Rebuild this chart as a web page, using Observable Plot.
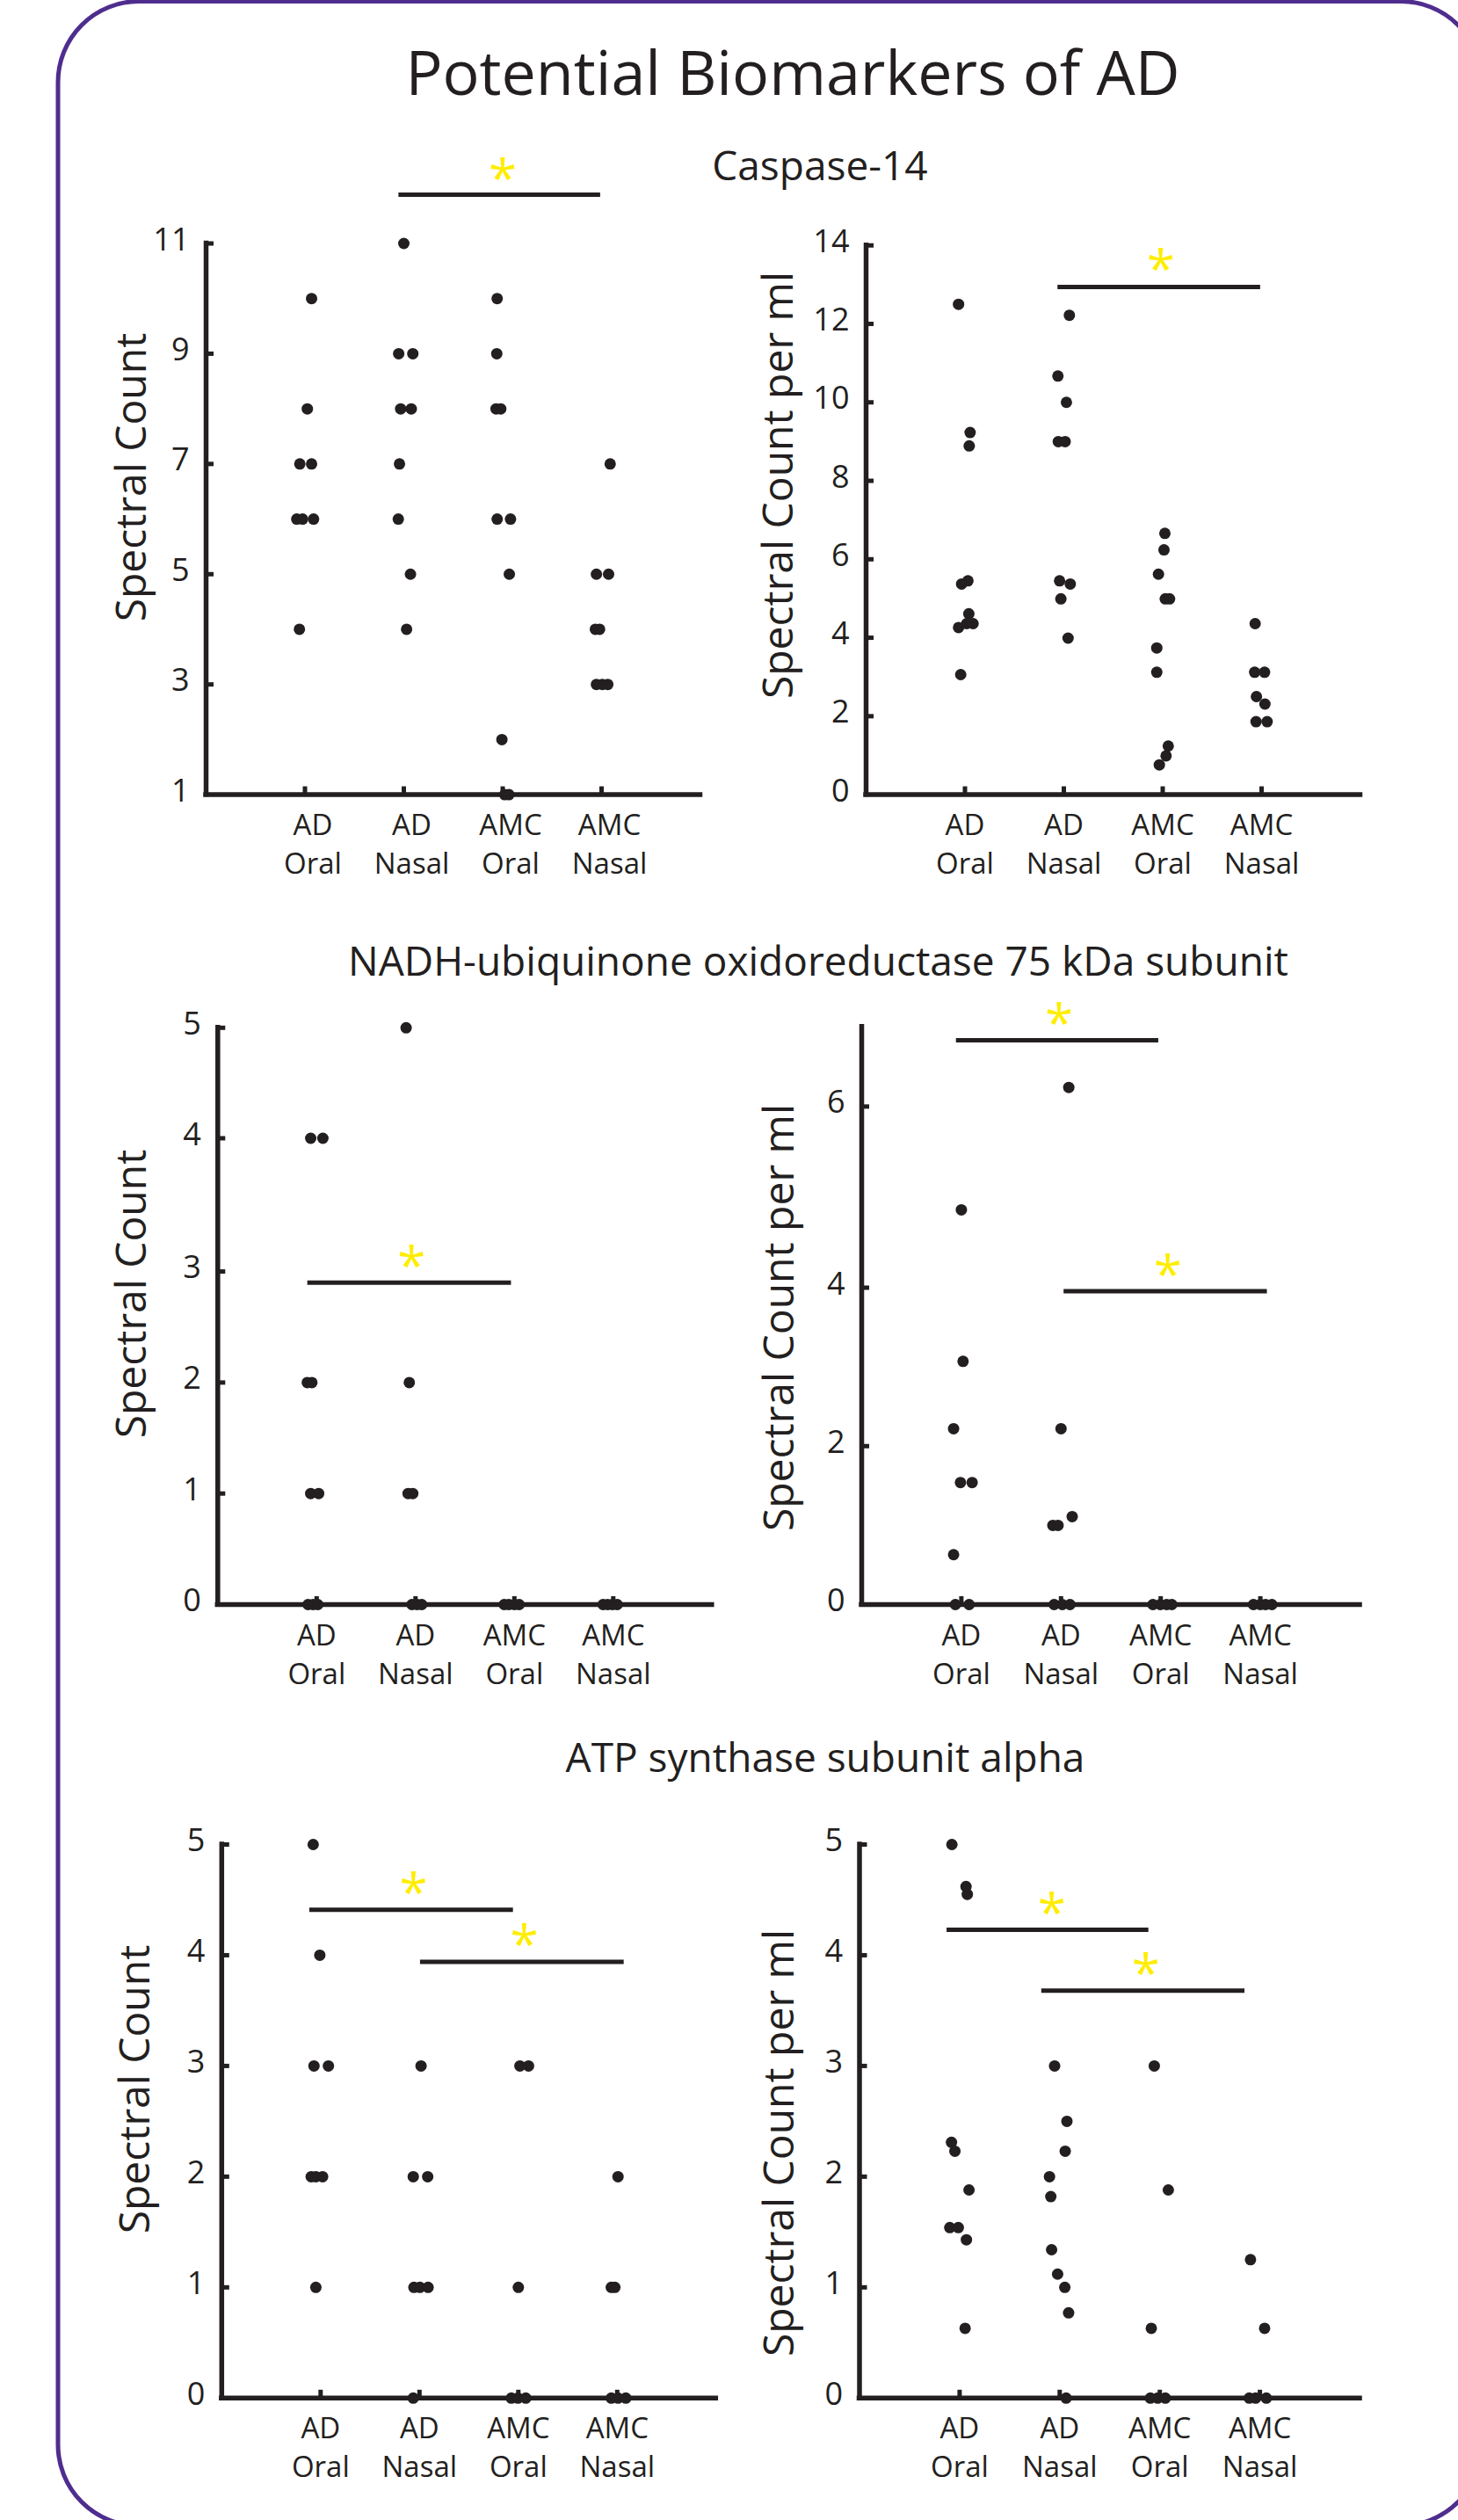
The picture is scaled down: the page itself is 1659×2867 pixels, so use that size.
<!DOCTYPE html>
<html>
<head>
<meta charset="utf-8">
<script src="https://cdn.jsdelivr.net/npm/d3@7"></script>
<script src="https://cdn.jsdelivr.net/npm/@observablehq/plot@0.6"></script>
<style>
  html, body { margin: 0; padding: 0; background: #ffffff; }
  body { position: relative; width: 1659px; height: 2867px; overflow: hidden; font-family: "Open Sans", sans-serif; }
  #overlay { position: absolute; left: 0; top: 0; pointer-events: none; z-index: 2; }
  .panel { position: absolute; z-index: 1; }
</style>
</head>
<body>
<svg id="overlay" width="1659" height="2867" xmlns="http://www.w3.org/2000/svg">
  <rect x="66" y="1.5" width="1620" height="2872" rx="92" ry="92" fill="none" stroke="#4f2d8f" stroke-width="5"/>
  <g font-family="'Open Sans', sans-serif" fill="#231f20" text-anchor="middle">
    <text x="902" y="108" font-size="70">Potential Biomarkers of AD</text>
    <text x="933" y="205" font-size="46">Caspase-14</text>
    <text x="931" y="1110" font-size="46">NADH-ubiquinone oxidoreductase 75 kDa subunit</text>
    <text x="939" y="2016" font-size="46">ATP synthase subunit alpha</text>
    <text transform="translate(166,543) rotate(-90)" font-size="48">Spectral Count</text>
    <text transform="translate(902,552) rotate(-90)" font-size="48">Spectral Count per ml</text>
    <text transform="translate(166,1472) rotate(-90)" font-size="48">Spectral Count</text>
    <text transform="translate(903,1499) rotate(-90)" font-size="48">Spectral Count per ml</text>
    <text transform="translate(170,2377) rotate(-90)" font-size="48">Spectral Count</text>
    <text transform="translate(903,2438) rotate(-90)" font-size="48">Spectral Count per ml</text>
  </g>
</svg>
<script>
// ---------- DATA ----------
const categories = ["AD\nOral", "AD\nNasal", "AMC\nOral", "AMC\nNasal"];

// Caspase-14 — spectral count
const caspaseCount = [
  [10, 8, 7, 7, 6, 6, 6, 4],
  [11, 9, 9, 8, 8, 7, 6, 5, 4],
  [10, 9, 8, 8, 6, 6, 5, 2, 1, 1],
  [7, 5, 5, 4, 4, 3, 3, 3]
];
const caspaseCountSpread = [
  [0.067, 0.024, -0.052, 0.067, -0.083, -0.024, 0.087, -0.056],
  [0, -0.052, 0.091, -0.032, 0.075, -0.044, -0.056, 0.067, 0.028],
  [-0.056, -0.06, -0.067, -0.02, -0.056, 0.079, 0.067, -0.008, 0.02, 0.063],
  [0.087, -0.052, 0.071, -0.063, -0.02, -0.052, 0.008, 0.063]
];
const caspaseCountTicks = [1, 3, 5, 7, 9, 11];
const caspaseCountSig = [{x1: 1.95, x2: 3.99, y: 11.885, sx: 3.0, sy: 12.35}];

// Caspase-14 — spectral count per ml
const caspasePerMl = [
  [12.5, 9.23, 8.89, 5.45, 5.37, 4.61, 4.36, 4.36, 4.26, 3.06],
  [12.22, 10.67, 10.0, 9.0, 9.0, 5.45, 5.37, 4.99, 3.99],
  [6.66, 6.24, 5.62, 4.99, 4.99, 3.74, 3.12, 1.24, 0.99, 0.76],
  [4.36, 3.12, 3.12, 2.5, 2.31, 1.86, 1.86]
];
const caspasePerMlSpread = [
  [-0.065, 0.052, 0.043, 0.03, -0.034, 0.039, 0.017, 0.082, -0.065, -0.043],
  [0.056, -0.06, 0.026, -0.056, 0.013, -0.043, 0.065, -0.03, 0.043],
  [0.022, 0.013, -0.043, 0.026, 0.069, -0.06, -0.06, 0.056, 0.034, -0.034],
  [-0.065, -0.07, 0.03, -0.052, 0.034, -0.056, 0.056]
];
const caspasePerMlTicks = [0, 2, 4, 6, 8, 10, 12, 14];
const caspasePerMlSig = [{x1: 1.94, x2: 3.99, y: 12.94, sx: 2.98, sy: 13.63}];

// NADH-ubiquinone oxidoreductase — spectral count
const nadhCount = [
  [4, 4, 2, 2, 1, 1, 0, 0, 0],
  [5, 2, 1, 1, 0, 0, 0],
  [0, 0, 0, 0],
  [0, 0, 0, 0]
];
const nadhCountSpread = [
  [-0.06, 0.063, -0.095, -0.048, -0.06, 0.02, -0.087, -0.036, 0.012],
  [-0.095, -0.063, -0.075, -0.028, -0.036, 0.016, 0.063],
  [-0.103, -0.056, 0, 0.048],
  [-0.103, -0.056, -0.008, 0.04]
];
const nadhCountTicks = [0, 1, 2, 3, 4, 5];
const nadhCountSig = [{x1: 0.91, x2: 2.97, y: 2.9, sx: 1.96, sy: 3.11}];

// NADH-ubiquinone oxidoreductase — spectral count per ml
const nadhPerMl = [
  [4.86, 3.07, 2.22, 1.54, 1.54, 0.63, 0, 0],
  [6.24, 2.22, 1.11, 1.0, 1.0, 0, 0, 0],
  [0, 0, 0, 0],
  [0, 0, 0, 0]
];
const nadhPerMlSpread = [
  [0, 0.017, -0.078, -0.009, 0.108, -0.078, -0.06, 0.078],
  [0.078, 0, 0.112, -0.082, -0.03, -0.069, 0.013, 0.09],
  [-0.078, -0.004, 0.06, 0.112],
  [-0.069, 0, 0.052, 0.116]
];
const nadhPerMlTicks = [0, 2, 4, 6];
const nadhPerMlSig = [
  {x1: 0.95, x2: 2.98, y: 6.83, sx: 1.98, sy: 7.16},
  {x1: 2.03, x2: 4.07, y: 3.955, sx: 3.07, sy: 4.245}
];

// ATP synthase subunit alpha — spectral count
const atpCount = [
  [5, 4, 3, 3, 2, 2, 2, 1],
  [3, 2, 2, 1, 1, 1, 0],
  [3, 3, 1, 0, 0, 0],
  [2, 1, 1, 0, 0, 0]
];
const atpCountSpread = [
  [-0.075, -0.008, -0.067, 0.079, -0.095, -0.048, 0.02, -0.048],
  [0.016, -0.063, 0.083, -0.056, 0.004, 0.087, -0.063],
  [0.016, 0.103, 0, -0.071, -0.004, 0.075],
  [0.008, -0.06, -0.024, -0.06, 0.008, 0.087]
];
const atpCountTicks = [0, 1, 2, 3, 4, 5];
const atpCountSig = [
  {x1: 0.89, x2: 2.95, y: 4.41, sx: 1.94, sy: 4.65},
  {x1: 2.01, x2: 4.07, y: 3.94, sx: 3.06, sy: 4.18}
];

// ATP synthase subunit alpha — spectral count per ml
const atpPerMl = [
  [5.0, 4.62, 4.55, 2.31, 2.23, 1.88, 1.54, 1.54, 1.43, 0.63],
  [3.0, 2.5, 2.23, 2.0, 1.82, 1.34, 1.12, 1.0, 0.77, 0],
  [3.0, 1.88, 0.63, 0, 0, 0],
  [1.25, 0.63, 0, 0, 0]
];
const atpPerMlSpread = [
  [-0.077, 0.064, 0.077, -0.081, -0.047, 0.094, -0.098, -0.013, 0.068, 0.055],
  [-0.051, 0.072, 0.055, -0.102, -0.089, -0.081, -0.021, 0.051, 0.089, 0.064],
  [-0.055, 0.085, -0.085, -0.094, -0.021, 0.055],
  [-0.094, 0.047, -0.106, -0.043, 0.064]
];
const atpPerMlTicks = [0, 1, 2, 3, 4, 5];
const atpPerMlSig = [
  {x1: 0.874, x2: 2.89, y: 4.23, sx: 1.92, sy: 4.47},
  {x1: 1.82, x2: 3.85, y: 3.68, sx: 2.86, sy: 3.92}
];

// ---------- DRAWING ----------
const ink = "#231f20";
const starColor = "#ffed00";

function makePanel(cfg) {
  const {values, spread, ticks, sig, yDomain, yPage, left, top, width, height, axisX, step, labelDx} = cfg;
  const ml = axisX - left;
  const fw = 5 * step;
  const yBottom = yPage[0], yTop = yPage[yPage.length - 1];
  const mt = yTop - top;
  const mb = top + height - yBottom;
  const fh = yBottom - yTop;
  const points = values.flatMap((arr, g) => arr.map((v, i) => ({x: g + 1 + spread[g][i], y: v})));
  const ymin = yDomain[0];
  const plot = Plot.plot({
    width, height,
    marginLeft: ml, marginRight: width - ml - fw, marginTop: mt, marginBottom: mb,
    style: {background: "transparent", fontFamily: "'Open Sans', sans-serif", fontSize: "34px", color: ink},
    x: {type: "linear", domain: [0, 5], range: [ml, ml + fw]},
    y: {type: "linear", domain: yDomain, range: yPage.map(p => p - top)},
    marks: [
      Plot.axisY(ticks, {tickFormat: d => String(d), tickSize: 0, tickPadding: 19, fontSize: 36, dy: -4, label: null, fill: ink}),
      Plot.axisX([1, 2, 3, 4], {tickFormat: i => categories[i - 1], tickSize: 0, tickPadding: 15, fontSize: 33, lineHeight: 1.33, dx: labelDx, label: null, fill: ink}),
      Plot.ruleY(ticks.filter(t => t !== ymin), {stroke: ink, strokeWidth: 5, insetRight: fw - 9}),
      Plot.ruleX([1, 2, 3, 4], {stroke: ink, strokeWidth: 5, insetTop: fh - 9}),
      Plot.ruleX([0], {stroke: ink, strokeWidth: 5.5, strokeLinecap: "square"}),
      Plot.ruleY([ymin], {stroke: ink, strokeWidth: 5.5, strokeLinecap: "square"}),
      Plot.ruleY(sig, {y: "y", x1: "x1", x2: "x2", stroke: ink, strokeWidth: 5}),
      Plot.text(sig, {x: "sx", y: "sy", text: () => "*", fill: starColor, fontSize: 58, dy: 13}),
      Plot.dot(points, {x: "x", y: "y", r: 6.5, fill: ink, stroke: "none"})
    ]
  });
  plot.classList.add("panel");
  plot.style.left = left + "px";
  plot.style.top = top + "px";
  plot.style.maxWidth = "none";
  document.body.appendChild(plot);
}

makePanel({values: caspaseCount, spread: caspaseCountSpread, ticks: caspaseCountTicks, sig: caspaseCountSig,
  yDomain: [1, 11], yPage: [903.6, 276.5], left: 90, top: 140, width: 760, height: 900, axisX: 234, step: 112.5, labelDx: 9});
makePanel({values: caspasePerMl, spread: caspasePerMlSpread, ticks: caspasePerMlTicks, sig: caspasePerMlSig,
  yDomain: [0, 14], yPage: [903.6, 278.7], left: 830, top: 140, width: 760, height: 900, axisX: 985, step: 112.5, labelDx: 0});
makePanel({values: nadhCount, spread: nadhCountSpread, ticks: nadhCountTicks, sig: nadhCountSig,
  yDomain: [0, 3, 4, 5], yPage: [1825, 1446.1, 1294.5, 1168.8], left: 90, top: 1120, width: 760, height: 880, axisX: 247.3, step: 112.5, labelDx: 0});
makePanel({values: nadhPerMl, spread: nadhPerMlSpread, ticks: nadhPerMlTicks, sig: nadhPerMlSig,
  yDomain: [0, 4, 6, 7], yPage: [1825, 1464.5, 1258.4, 1167.7], left: 830, top: 1120, width: 760, height: 880, axisX: 980, step: 113.4, labelDx: 0});
makePanel({values: atpCount, spread: atpCountSpread, ticks: atpCountTicks, sig: atpCountSig,
  yDomain: [0, 5], yPage: [2727.8, 2098], left: 90, top: 2040, width: 760, height: 827, axisX: 251.8, step: 112.5, labelDx: 0});
makePanel({values: atpPerMl, spread: atpPerMlSpread, ticks: atpPerMlTicks, sig: atpPerMlSig,
  yDomain: [0, 5], yPage: [2727.8, 2098], left: 830, top: 2040, width: 760, height: 827, axisX: 977.5, step: 113.9, labelDx: 0});
</script>
</body>
</html>
